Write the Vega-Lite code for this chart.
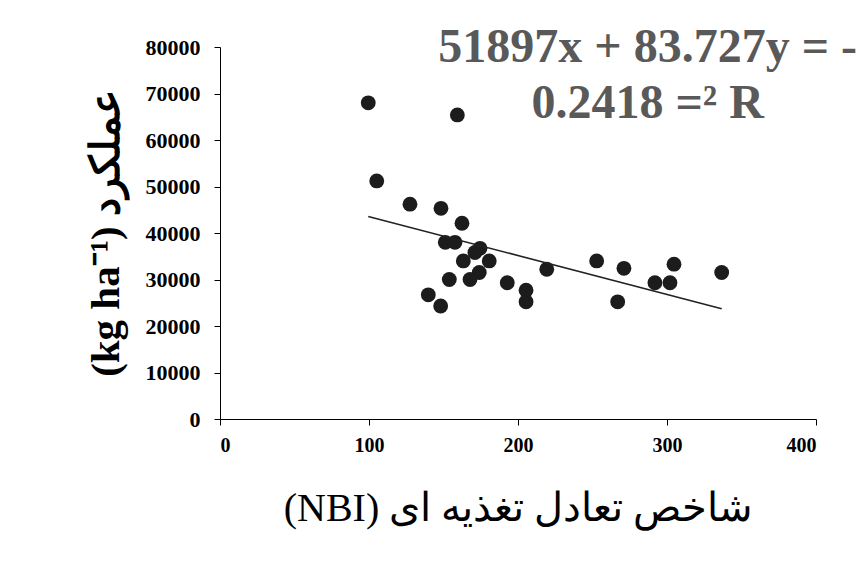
{
  "$schema": "https://vega.github.io/schema/vega-lite/v6.json",
  "width": 596,
  "height": 372,
  "autosize": {"type": "none"},
  "padding": {"left": 220, "top": 47, "right": 44, "bottom": 162},
  "background": "white",
  "config": {"view": {"stroke": null}, "font": "Liberation Serif"},
  "datasets": {
    "points": [
      {"NBI": 99.5, "yield": 68000},
      {"NBI": 159.3, "yield": 65400},
      {"NBI": 105.2, "yield": 51200},
      {"NBI": 127.5, "yield": 46200},
      {"NBI": 148.3, "yield": 45300},
      {"NBI": 162.4, "yield": 42100},
      {"NBI": 151.2, "yield": 38000},
      {"NBI": 157.7, "yield": 38000},
      {"NBI": 171.1, "yield": 35800},
      {"NBI": 174.5, "yield": 36700},
      {"NBI": 163.3, "yield": 34000},
      {"NBI": 180.7, "yield": 34000},
      {"NBI": 174.0, "yield": 31500},
      {"NBI": 167.8, "yield": 30000},
      {"NBI": 153.9, "yield": 30000},
      {"NBI": 139.8, "yield": 26700},
      {"NBI": 148.1, "yield": 24300},
      {"NBI": 192.8, "yield": 29300},
      {"NBI": 205.4, "yield": 27700},
      {"NBI": 205.4, "yield": 25200},
      {"NBI": 219.3, "yield": 32200},
      {"NBI": 252.8, "yield": 34000},
      {"NBI": 271.1, "yield": 32400},
      {"NBI": 266.9, "yield": 25200},
      {"NBI": 304.7, "yield": 33300},
      {"NBI": 291.9, "yield": 29300},
      {"NBI": 302.0, "yield": 29300},
      {"NBI": 336.7, "yield": 31500}
    ],
    "trend": [
      {"NBI": 99.5, "yield": 43566},
      {"NBI": 336.7, "yield": 23706}
    ],
    "labels": [
      {"line": 1, "label": "51897x + 83.727y = -"},
      {"line": 2, "label": "0.2418 =² R"}
    ]
  },
  "layer": [
    {
      "data": {"name": "points"},
      "mark": {"type": "circle", "size": 220, "opacity": 1, "color": "#1c1c1c"},
      "encoding": {
        "x": {
          "field": "NBI", "type": "quantitative",
          "scale": {"domain": [0, 400], "nice": false},
          "axis": {
            "values": [0, 100, 200, 300, 400],
            "format": "d",
            "grid": false,
            "domainColor": "#000000", "tickColor": "#000000", "tickSize": 6,
            "labelFont": "Liberation Serif", "labelFontSize": 20, "labelFontWeight": "bold", "labelColor": "#000000", "labelPadding": 10,
            "title": "(NBI) شاخص تعادل تغذیه ای",
            "titleFont": "Liberation Serif", "titleFontSize": 40, "titleFontWeight": "normal", "titleColor": "#000000", "titlePadding": 33
          }
        },
        "y": {
          "field": "yield", "type": "quantitative",
          "scale": {"domain": [0, 80000], "nice": false},
          "axis": {
            "values": [0, 10000, 20000, 30000, 40000, 50000, 60000, 70000, 80000],
            "format": "d",
            "grid": false,
            "domainColor": "#000000", "tickColor": "#000000", "tickSize": 6,
            "labelFont": "Liberation Serif", "labelFontSize": 22, "labelFontWeight": "bold", "labelColor": "#000000", "labelPadding": 14,
            "title": "(kg ha⁻¹) عملکرد",
            "titleFont": "Liberation Serif", "titleFontSize": 41, "titleFontWeight": "bold", "titleColor": "#000000", "titlePadding": 18
          }
        }
      }
    },
    {
      "data": {"name": "trend"},
      "mark": {"type": "line", "color": "#222222", "strokeWidth": 1.6},
      "encoding": {
        "x": {"field": "NBI", "type": "quantitative"},
        "y": {"field": "yield", "type": "quantitative"}
      }
    },
    {
      "data": {"name": "labels"},
      "transform": [{"filter": "datum.line == 1"}],
      "mark": {"type": "text", "font": "Liberation Serif", "fontSize": 48, "fontWeight": "bold", "color": "#595959", "align": "center", "baseline": "alphabetic"},
      "encoding": {
        "x": {"datum": 287, "type": "quantitative"},
        "y": {"datum": 76800, "type": "quantitative"},
        "text": {"field": "label"}
      }
    },
    {
      "data": {"name": "labels"},
      "transform": [{"filter": "datum.line == 2"}],
      "mark": {"type": "text", "font": "Liberation Serif", "fontSize": 48, "fontWeight": "bold", "color": "#595959", "align": "center", "baseline": "alphabetic"},
      "encoding": {
        "x": {"datum": 287, "type": "quantitative"},
        "y": {"datum": 64700, "type": "quantitative"},
        "text": {"field": "label"}
      }
    }
  ]
}
